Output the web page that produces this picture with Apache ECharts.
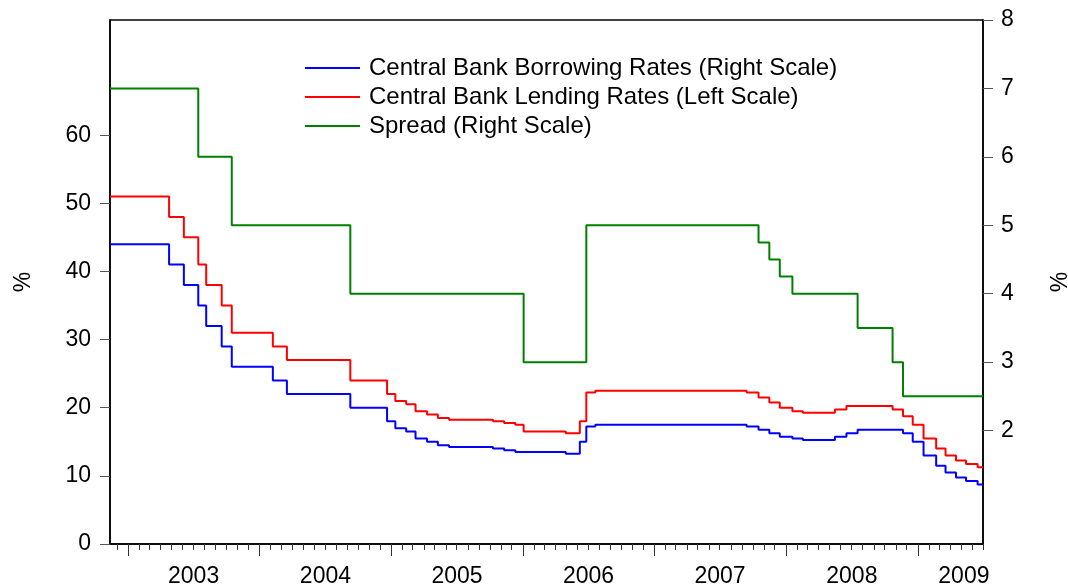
<!DOCTYPE html>
<html>
<head>
<meta charset="utf-8">
<script src="https://cdn.jsdelivr.net/npm/echarts@6/dist/echarts.min.js"></script>
<style>
html,body{margin:0;padding:0;background:#fff;}
#c{width:1068px;height:587px;}
</style>
</head>
<body>
<div id="c"></div>
<script>
// Dates at which rates change (value holds from that date onward)
var changeDates = [
  '2002-11-12','2003-04-25','2003-06-05','2003-07-15','2003-08-06','2003-09-18','2003-10-16',
  '2004-02-07','2004-03-17','2004-09-09','2004-12-20',
  '2005-01-12','2005-02-11','2005-03-09','2005-04-10','2005-05-10','2005-06-10','2005-10-10','2005-11-10','2005-12-11',
  '2006-01-03','2006-04-30','2006-06-08','2006-06-26','2006-07-21',
  '2007-09-14','2007-10-17','2007-11-16','2007-12-15',
  '2008-01-19','2008-02-17','2008-05-16','2008-06-17','2008-07-18','2008-10-23','2008-11-21','2008-12-18',
  '2009-01-17','2009-02-21','2009-03-19','2009-04-17','2009-05-15','2009-06-16','2009-07-01'
];
var borrowing = [
  44,41,38,35,32,29,26,
  24,22,20,18,
  17,16.5,15.5,15,14.5,14.25,14,13.75,13.5,
  13.5,13.25,15,17.25,17.5,
  17.25,16.75,16.25,15.75,
  15.5,15.25,15.75,16.25,16.75,16.75,16.25,15,
  13,11.5,10.5,9.75,9.25,8.75,8.75
];
var lending = [
  51,48,45,41,38,35,31,
  29,27,24,22,
  21,20.5,19.5,19,18.5,18.25,18,17.75,17.5,
  16.5,16.25,18,22.25,22.5,
  22.25,21.5,20.75,20,
  19.5,19.25,19.75,20.25,20.25,19.75,18.75,17.5,
  15.5,14,13,12.25,11.75,11.25,11.25
];
var spread = [
  7,7,7,6,6,6,5,
  5,5,4,4,
  4,4,4,4,4,4,4,4,4,
  3,3,3,5,5,
  5,4.75,4.5,4.25,
  4,4,4,4,3.5,3,2.5,2.5,
  2.5,2.5,2.5,2.5,2.5,2.5,2.5
];
var seriesNames = ['Central Bank Borrowing Rates (Right Scale)','Central Bank Lending Rates (Left Scale)','Spread (Right Scale)'];
var leftTicks = [0,10,20,30,40,50,60];
var rightTicks = [2,3,4,5,6,7,8];
var yearLabels = ['2003','2004','2005','2006','2007','2008','2009'];
var yearLabelDates = ['2003-07-02','2004-07-02','2005-07-02','2006-07-02','2007-07-02','2008-07-02','2009-05-09'];
var xStart = '2002-11-12', xEnd = '2009-07-01';

function t(s){ var p=s.split('-'); return Date.UTC(+p[0], +p[1]-1, +p[2]); }
function pairs(vals){ return changeDates.map(function(d,i){ return [t(d), vals[i]]; }); }

var yearTicks = [], monthTicks = [];
for (var y = 2003; y <= 2009; y++) yearTicks.push(Date.UTC(y,0,1));
for (var m = 0; m < 12*8; m++) {
  var v = Date.UTC(2002, 11 + m, 1);
  if (v <= t(xEnd)) monthTicks.push(v);
}
var labelVals = yearLabelDates.map(t);

var FONT = 'Liberation Sans, Arial, Helvetica, sans-serif';
var FS = 23;

var chart = echarts.init(document.getElementById('c'), null, {renderer:'canvas'});
chart.setOption({
  animation: false,
  backgroundColor: '#fff',
  grid: {left:110, right:85, top:20, bottom:43, outerBoundsMode:'none', containLabel:false,
    show:true, borderColor:'#000', borderWidth:1.5, backgroundColor:'transparent'},
  legend: {
    orient:'vertical', left:305, top:56, padding:0, itemWidth:55, itemHeight:2, itemGap:5, icon:'rect',
    data: seriesNames,
    textStyle:{fontFamily:FONT, fontSize:24, color:'#000', lineHeight:24, padding:[0,0,0,4]}
  },
  xAxis: [{
    type:'value', min:t(xStart), max:t(xEnd),
    axisLine:{show:true, lineStyle:{color:'#000', width:1.5}},
    axisTick:{show:true, inside:false, length:6, customValues:monthTicks, lineStyle:{color:'#333', width:1}},
    axisLabel:{show:true, customValues:labelVals, margin:21, fontFamily:FONT, fontSize:FS, color:'#000',
      formatter:function(v){ var i = labelVals.indexOf(v); return i>=0 ? yearLabels[i] : ''; }},
    splitLine:{show:false}
  },{
    type:'value', min:t(xStart), max:t(xEnd), position:'bottom',
    axisLine:{show:false},
    axisTick:{show:true, inside:false, length:12, customValues:yearTicks, lineStyle:{color:'#333', width:1}},
    axisLabel:{show:false},
    splitLine:{show:false}
  }],
  yAxis: [{
    type:'value', position:'left', min:0, max:76.9,
    name:'%', nameLocation:'middle', nameRotate:90, nameGap:75,
    nameTextStyle:{fontFamily:FONT, fontSize:FS, color:'#000'},
    axisLine:{show:true, lineStyle:{color:'#000', width:1.5}},
    axisTick:{show:true, inside:false, length:10, customValues:leftTicks, lineStyle:{color:'#555', width:1}},
    axisLabel:{customValues:leftTicks, margin:19, fontFamily:FONT, fontSize:FS, color:'#000'},
    splitLine:{show:false}
  },{
    type:'value', position:'right', min:0.342, max:8,
    name:'%', nameLocation:'middle', nameRotate:90, nameGap:66,
    nameTextStyle:{fontFamily:FONT, fontSize:FS, color:'#000'},
    axisLine:{show:true, lineStyle:{color:'#000', width:1.5}},
    axisTick:{show:true, inside:false, length:10, customValues:rightTicks, lineStyle:{color:'#555', width:1}},
    axisLabel:{customValues:rightTicks, margin:18, fontFamily:FONT, fontSize:FS, color:'#000'},
    splitLine:{show:false}
  }],
  series: [{
    name:seriesNames[0], type:'line', step:'end', showSymbol:false, symbol:'none',
    xAxisIndex:0, yAxisIndex:0, color:'#0000ff', lineStyle:{color:'#0000ff', width:2},
    data: pairs(borrowing)
  },{
    name:seriesNames[1], type:'line', step:'end', showSymbol:false, symbol:'none',
    xAxisIndex:0, yAxisIndex:0, color:'#ff0000', lineStyle:{color:'#ff0000', width:2},
    data: pairs(lending)
  },{
    name:seriesNames[2], type:'line', step:'end', showSymbol:false, symbol:'none',
    xAxisIndex:0, yAxisIndex:1, color:'#008000', lineStyle:{color:'#008000', width:2},
    data: pairs(spread)
  }]
});

// Keep the small (0.25-point) steps: make zrender's tiny-segment merging threshold negligible.
function fixSteps(){
  try {
    var zr = chart.getZr();
    var list = zr.storage.getDisplayList(true);
    list.forEach(function(el){
      if (el.type === 'ec-polyline' || (el.shape && el.shape.points && el.segmentIgnoreThreshold)) {
        el.segmentIgnoreThreshold = 0.01;
        if (el.dirtyShape) el.dirtyShape();
      }
    });
    zr.refreshImmediately();
  } catch (e) {}
}
fixSteps();
setTimeout(fixSteps, 0);
</script>
</body>
</html>
